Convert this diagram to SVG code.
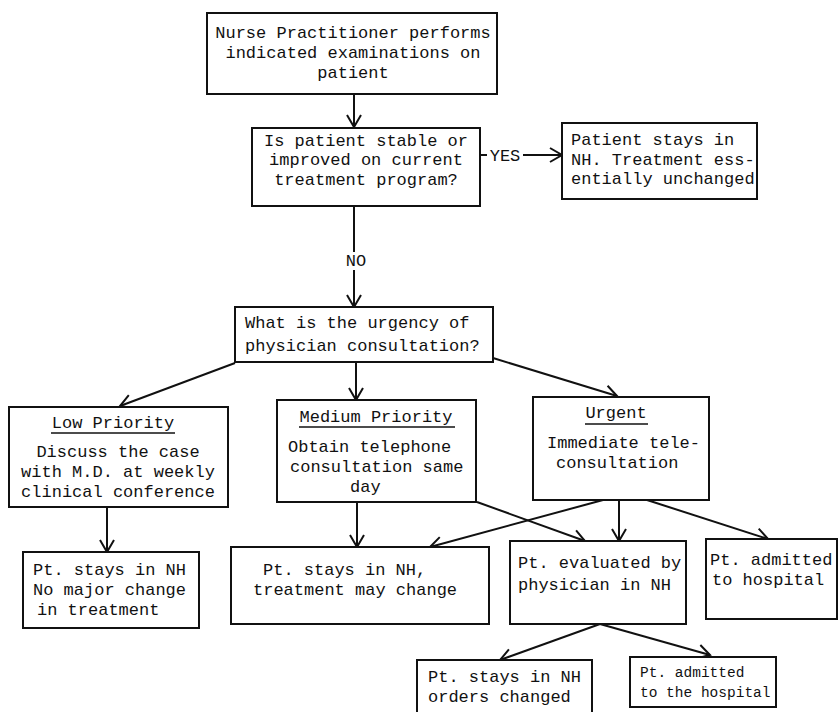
<svg xmlns="http://www.w3.org/2000/svg" width="840" height="712" viewBox="0 0 840 712">
<defs>
<style>
.box{fill:#fff;stroke:#111;stroke-width:2}
.t{font-family:"Liberation Mono","DejaVu Sans Mono",monospace;font-size:17px;fill:#111}
.s{font-size:14.5px}
.m{text-anchor:middle}
.ln{stroke:#111;stroke-width:2;fill:none}
.ul{stroke:#111;stroke-width:1.5}
</style>
<marker id="ah" viewBox="-13 -9 15 18" markerWidth="15" markerHeight="18" refX="0" refY="0" orient="auto" markerUnits="userSpaceOnUse">
<path d="M-12,-7 L0,0 L-12,7" fill="none" stroke="#111" stroke-width="2"/>
</marker>
</defs>
<rect width="840" height="712" fill="#fff"/>

<g id="connectors">
<line class="ln" x1="354" y1="94" x2="354" y2="127" marker-end="url(#ah)"/>
<line class="ln" x1="480" y1="155" x2="487" y2="155"/>
<text class="t m" x="505" y="161">YES</text>
<line class="ln" x1="523" y1="155" x2="562" y2="155" marker-end="url(#ah)"/>
<line class="ln" x1="354" y1="206" x2="354" y2="252"/>
<text class="t m" x="356" y="266">NO</text>
<line class="ln" x1="354" y1="270" x2="354" y2="307" marker-end="url(#ah)"/>
<line class="ln" x1="235" y1="363" x2="120" y2="406" marker-end="url(#ah)"/>
<line class="ln" x1="356" y1="362" x2="356" y2="400" marker-end="url(#ah)"/>
<line class="ln" x1="493" y1="358" x2="617" y2="396" marker-end="url(#ah)"/>
<line class="ln" x1="107" y1="507" x2="107" y2="552" marker-end="url(#ah)"/>
<line class="ln" x1="357" y1="502" x2="357" y2="547" marker-end="url(#ah)"/>
<line class="ln" x1="477" y1="502" x2="585" y2="541" marker-end="url(#ah)"/>
<line class="ln" x1="603" y1="500" x2="430" y2="547" marker-end="url(#ah)"/>
<line class="ln" x1="619" y1="500" x2="619" y2="541" marker-end="url(#ah)"/>
<line class="ln" x1="647" y1="500" x2="768" y2="539" marker-end="url(#ah)"/>
<line class="ln" x1="600" y1="624" x2="500" y2="660" marker-end="url(#ah)"/>
<line class="ln" x1="600" y1="624" x2="710" y2="655" marker-end="url(#ah)"/>
</g>

<g id="n1">
<rect class="box" x="207" y="13" width="290" height="81"/>
<text class="t m" x="353" y="38">Nurse Practitioner performs</text>
<text class="t m" x="353" y="58">indicated examinations on</text>
<text class="t m" x="353" y="78">patient</text>
</g>

<g id="n2">
<rect class="box" x="252" y="128" width="228" height="78"/>
<text class="t m" x="366" y="146">Is patient stable or</text>
<text class="t m" x="366" y="165">improved on current</text>
<text class="t m" x="366" y="185">treatment program?</text>
</g>

<g id="n3">
<rect class="box" x="562" y="123" width="195" height="76"/>
<text class="t" x="571" y="145">Patient stays in</text>
<text class="t" x="571" y="165">NH. Treatment ess-</text>
<text class="t" x="571" y="184">entially unchanged</text>
</g>

<g id="n4">
<rect class="box" x="235" y="307" width="258" height="55"/>
<text class="t" x="245" y="328">What is the urgency of</text>
<text class="t" x="245" y="351">physician consultation?</text>
</g>

<g id="n5">
<rect class="box" x="9" y="407" width="219" height="100"/>
<text class="t m" x="113" y="428">Low Priority</text>
<line class="ul" x1="51" y1="433" x2="175" y2="433"/>
<text class="t m" x="118" y="457">Discuss the case</text>
<text class="t m" x="118" y="477">with M.D. at weekly</text>
<text class="t m" x="118" y="497">clinical conference</text>
</g>

<g id="n6">
<rect class="box" x="277" y="400" width="199" height="102"/>
<text class="t m" x="376" y="422">Medium Priority</text>
<line class="ul" x1="299" y1="427" x2="455" y2="427"/>
<text class="t" x="288" y="452">Obtain telephone</text>
<text class="t" x="290" y="472">consultation same</text>
<text class="t" x="350" y="492">day</text>
</g>

<g id="n7">
<rect class="box" x="533" y="397" width="176" height="103"/>
<text class="t m" x="616" y="418">Urgent</text>
<line class="ul" x1="585" y1="424" x2="648" y2="424"/>
<text class="t" x="547" y="448">Immediate tele-</text>
<text class="t" x="556" y="468">consultation</text>
</g>

<g id="n8">
<rect class="box" x="23" y="552" width="176" height="76"/>
<text class="t" x="33" y="575">Pt. stays in NH</text>
<text class="t" x="33" y="595">No major change</text>
<text class="t" x="37" y="615">in treatment</text>
</g>

<g id="n9">
<rect class="box" x="231" y="547" width="258" height="77"/>
<text class="t" x="263" y="575">Pt. stays in NH,</text>
<text class="t" x="253" y="595">treatment may change</text>
</g>

<g id="n10">
<rect class="box" x="510" y="541" width="176" height="83"/>
<text class="t" x="518" y="568">Pt. evaluated by</text>
<text class="t" x="518" y="590">physician in NH</text>
</g>

<g id="n11">
<rect class="box" x="706" y="539" width="131" height="80"/>
<text class="t" x="710" y="565">Pt. admitted</text>
<text class="t" x="712" y="585">to hospital</text>
</g>

<g id="n12">
<rect class="box" x="417" y="660" width="175" height="60"/>
<text class="t" x="428" y="682">Pt. stays in NH</text>
<text class="t" x="428" y="702">orders changed</text>
</g>

<g id="n13">
<rect class="box" x="630" y="657" width="146" height="50"/>
<text class="t s" x="640" y="677">Pt. admitted</text>
<text class="t s" x="640" y="697">to the hospital</text>
</g>
</svg>
